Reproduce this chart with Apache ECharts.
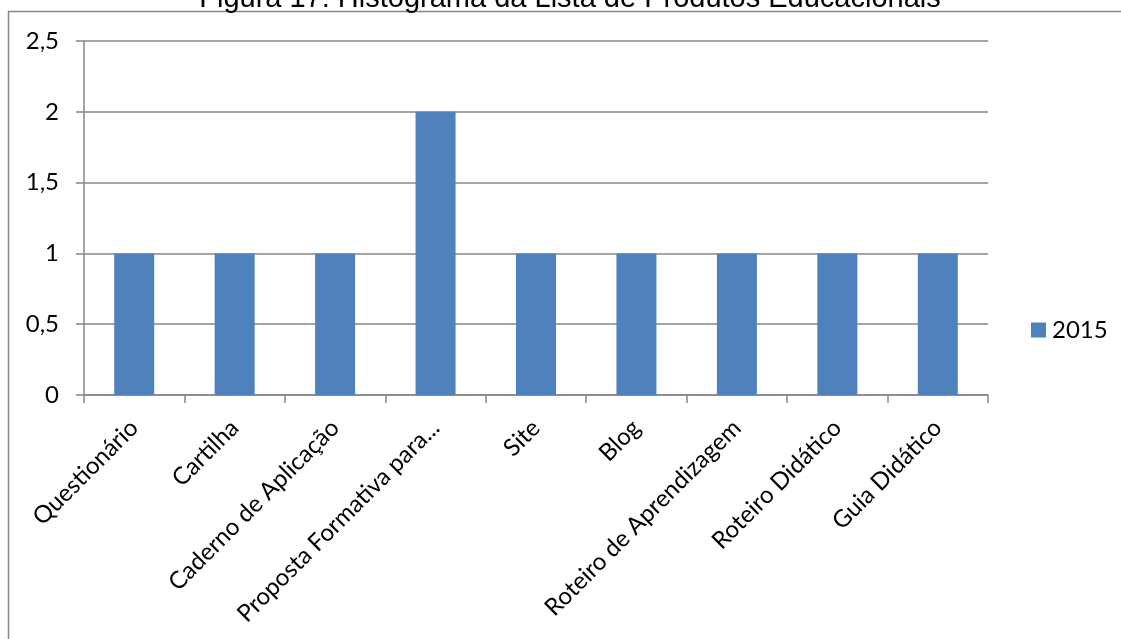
<!DOCTYPE html>
<html>
<head>
<meta charset="utf-8">
<script src="https://cdn.jsdelivr.net/npm/echarts@6/dist/echarts.min.js"></script>
<style>
  html, body { margin: 0; padding: 0; background: #fff; }
  #chart { width: 1121px; height: 639px; }
</style>
</head>
<body>
<div id="chart"></div>
<script>
// Product categories and their counts for 2015
const categories = [
  'Questionário',
  'Cartilha',
  'Caderno de Aplicação',
  'Proposta Formativa para...',
  'Site',
  'Blog',
  'Roteiro de Aprendizagem',
  'Roteiro Didático',
  'Guia Didático'
];
const seriesName = '2015';
const values2015 = [1, 1, 1, 2, 1, 1, 1, 1, 1];
const yTicks = [0, 0.5, 1, 1.5, 2, 2.5];
const titleText = 'Figura 17: Histograma da Lista de Produtos Educacionais';

const gray = '#878787';
const labelFont = 'Lato, Carlito, Calibri, sans-serif';
const labelSize = 24;

const chart = echarts.init(document.getElementById('chart'));
chart.setOption({
  animation: false,
  backgroundColor: '#fff',
  graphic: [
    {
      type: 'polyline',
      shape: { points: [[8.5, 639], [8.5, 11.5], [1121, 11.5]] },
      style: { stroke: gray, lineWidth: 1.5, fill: null }
    },
    {
      type: 'text',
      x: 570,
      y: -1,
      style: {
        text: titleText,
        font: '29px "Liberation Sans", Arial, sans-serif',
        fill: '#000',
        align: 'center',
        verticalAlign: 'middle'
      }
    }
  ],
  legend: {
    data: [seriesName],
    left: 1031,
    top: 318,
    padding: 0,
    itemWidth: 15,
    itemHeight: 15,
    itemGap: 10,
    icon: 'rect',
    textStyle: { fontFamily: labelFont, fontSize: labelSize, color: '#000', padding: [0, 0, 0, 1] }
  },
  grid: { left: 84, right: 133, top: 41, bottom: 244, containLabel: false },
  xAxis: {
    type: 'category',
    data: categories,
    boundaryGap: true,
    axisLine: { show: true, lineStyle: { color: gray, width: 1.5 } },
    axisTick: { show: true, alignWithLabel: false, length: 8, lineStyle: { color: gray, width: 1.5 } },
    axisLabel: {
      interval: 0,
      rotate: 45,
      margin: 29,
      fontFamily: labelFont,
      fontSize: labelSize,
      color: '#000'
    },
    splitLine: { show: false }
  },
  yAxis: {
    type: 'value',
    min: yTicks[0],
    max: yTicks[yTicks.length - 1],
    interval: 0.5,
    axisLine: { show: true, lineStyle: { color: gray, width: 1.5 } },
    axisTick: { show: true, length: 8, lineStyle: { color: gray, width: 1.5 } },
    axisLabel: {
      margin: 25,
      fontFamily: labelFont,
      fontSize: labelSize,
      color: '#000',
      formatter: v => String(v).replace('.', ',')
    },
    splitLine: { show: true, lineStyle: { color: gray, width: 1.5 } }
  },
  series: [{
    name: seriesName,
    type: 'bar',
    data: values2015,
    barWidth: 40,
    itemStyle: { color: '#4F81BD' }
  }]
});
</script>
</body>
</html>
